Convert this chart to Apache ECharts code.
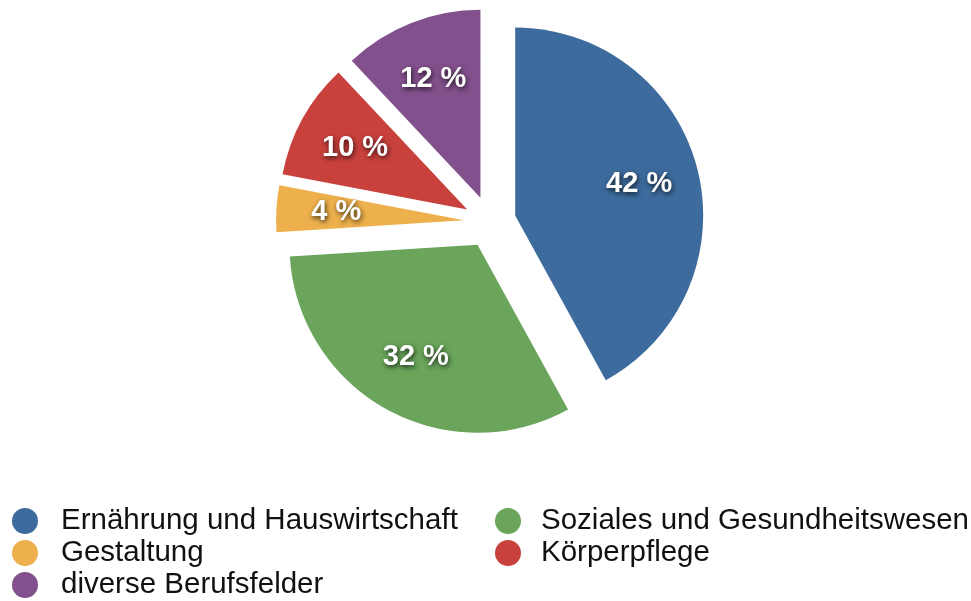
<!DOCTYPE html>
<html>
<head>
<meta charset="utf-8">
<script src="https://cdn.jsdelivr.net/npm/echarts@6/dist/echarts.min.js"></script>
<style>
  html, body { margin: 0; padding: 0; background: #fff; }
  #chart { width: 971px; height: 601px; }
</style>
</head>
<body>
<div id="chart"></div>
<script>
// Anteile nach Berufsfeld (Prozent)
var categories = [
    'Ernährung und Hauswirtschaft',
    'Soziales und Gesundheitswesen',
    'Gestaltung',
    'Körperpflege',
    'diverse Berufsfelder'
];
var shares = [42, 32, 4, 10, 12];
var colors = ['#3d6b9d', '#6aa55b', '#edb04c', '#c9413d', '#82508c'];

// Legende in zwei Spalten
var legendLeft = ['Ernährung und Hauswirtschaft', 'Gestaltung', 'diverse Berufsfelder'];
var legendRight = ['Soziales und Gesundheitswesen', 'Körperpflege'];

var chart = echarts.init(document.getElementById('chart'));

var pieData = [], labelData = [];
for (var i = 0; i < categories.length; i++) {
    pieData.push({
        name: categories[i],
        value: shares[i],
        selected: true,
        itemStyle: { color: colors[i] }
    });
    labelData.push({
        name: categories[i],
        value: shares[i],
        selected: true
    });
}

function makeLegend(names, left, textPad) {
    return {
        orient: 'vertical',
        left: left,
        top: 506,
        height: 95,
        padding: 0,
        itemGap: 2,
        itemWidth: 26,
        itemHeight: 26,
        icon: 'circle',
        selectedMode: false,
        data: names,
        textStyle: {
            fontFamily: 'Liberation Sans, Arial, sans-serif',
            fontSize: 29.5,
            color: '#111',
            padding: [0, 0, 0, textPad]
        }
    };
}

var option = {
    backgroundColor: '#fff',
    animation: false,
    legend: [makeLegend(legendLeft, 12, 18), makeLegend(legendRight, 495, 15)],
    series: [
        {
            name: 'Anteile',
            type: 'pie',
            center: [490, 222],
            radius: [0, 188],
            startAngle: 90,
            clockwise: true,
            selectedMode: 'multiple',
            selectedOffset: 26,
            silent: true,
            itemStyle: { borderWidth: 0 },
            select: { itemStyle: { borderWidth: 0 } },
            emphasis: { disabled: true },
            label: { show: false },
            labelLine: { show: false },
            data: pieData
        },
        {
            // unsichtbarer Ring nur für die Beschriftung
            name: 'Beschriftung',
            type: 'pie',
            center: [490, 222],
            radius: [0, 250],
            startAngle: 90,
            clockwise: true,
            selectedMode: 'multiple',
            selectedOffset: 26,
            silent: true,
            itemStyle: { color: 'rgba(0,0,0,0)', borderWidth: 0 },
            select: { itemStyle: { color: 'rgba(0,0,0,0)', borderWidth: 0 } },
            emphasis: { disabled: true },
            labelLine: { show: false },
            label: {
                show: true,
                position: 'inside',
                formatter: '{c} %',
                color: '#fff',
                fontFamily: 'Liberation Sans, Arial, sans-serif',
                fontWeight: 'bold',
                fontSize: 29,
                textShadowColor: 'rgba(0,0,0,0.75)',
                textShadowBlur: 5,
                textShadowOffsetX: 1,
                textShadowOffsetY: 2
            },
            data: labelData
        }
    ]
};

chart.setOption(option);
</script>
</body>
</html>
